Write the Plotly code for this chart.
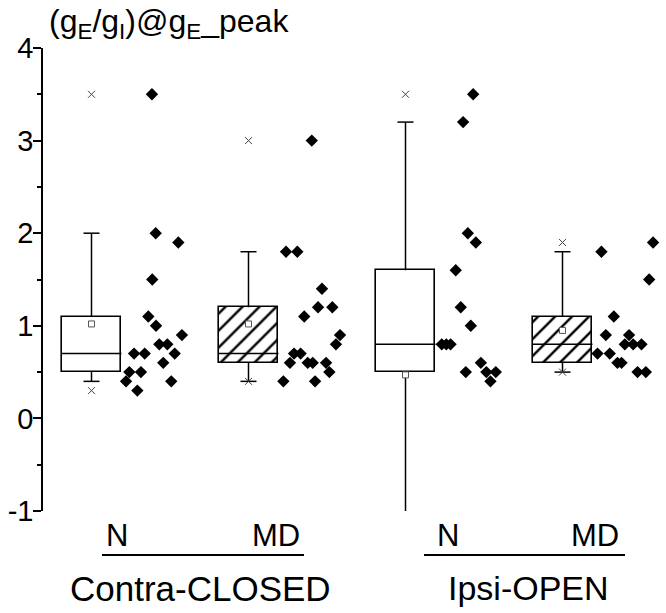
import plotly.graph_objects as go

# ---------------- data ----------------
group_names = ["Contra-CLOSED N", "Contra-CLOSED MD", "Ipsi-OPEN N", "Ipsi-OPEN MD"]
group_pos = [0, 1, 2, 3]
hatched = [False, True, False, True]

box_q1 = [0.50, 0.60, 0.50, 0.60]
box_median = [0.70, 0.70, 0.80, 0.80]
box_q3 = [1.10, 1.20, 1.60, 1.10]
whisker_low = [0.40, 0.40, -1.20, 0.50]
whisker_high = [2.00, 1.80, 3.20, 1.80]
box_mean = [1.02, 1.02, 0.47, 0.95]
data_min = [0.30, 0.40, None, 0.50]
data_max = [3.50, 3.00, 3.50, 1.90]

contra_n_values = [3.5, 2.0, 1.9, 1.5, 1.1, 1.0, 0.9, 0.8, 0.8, 0.7, 0.7, 0.7, 0.6, 0.5, 0.5, 0.4, 0.4, 0.3]
contra_n_jitter = [0.385, 0.409, 0.553, 0.387, 0.362, 0.411, 0.576, 0.432, 0.483, 0.271, 0.339, 0.530, 0.457, 0.241, 0.315, 0.220, 0.508, 0.292]

contra_md_values = [3.0, 1.8, 1.8, 1.4, 1.2, 1.2, 1.1, 0.9, 0.8, 0.7, 0.7, 0.6, 0.6, 0.6, 0.6, 0.5, 0.4, 0.4]
contra_md_jitter = [0.403, 0.239, 0.311, 0.468, 0.443, 0.534, 0.355, 0.583, 0.557, 0.290, 0.332, 0.264, 0.377, 0.409, 0.494, 0.515, 0.222, 0.424]

ipsi_n_values = [3.5, 3.2, 2.0, 1.9, 1.6, 1.2, 1.0, 0.8, 0.8, 0.8, 0.6, 0.5, 0.5, 0.5, 0.4]
ipsi_n_jitter = [0.431, 0.367, 0.397, 0.448, 0.320, 0.352, 0.416, 0.231, 0.260, 0.287, 0.480, 0.384, 0.515, 0.575, 0.541]

ipsi_md_values = [1.9, 1.8, 1.5, 1.1, 0.9, 0.9, 0.8, 0.8, 0.8, 0.7, 0.7, 0.6, 0.6, 0.5, 0.5]
ipsi_md_jitter = [0.577, 0.248, 0.552, 0.327, 0.276, 0.424, 0.397, 0.450, 0.503, 0.223, 0.301, 0.350, 0.376, 0.478, 0.531]

point_values = [contra_n_values, contra_md_values, ipsi_n_values, ipsi_md_values]
point_jitter = [contra_n_jitter, contra_md_jitter, ipsi_n_jitter, ipsi_md_jitter]

y_tick_vals = [-1, 0, 1, 2, 3, 4]
y_tick_text = ["-1", "0", "1", "2", "3", "4"]

# ---------------- layout constants ----------------
W, H = 666, 613
AX_LEFT, AX_TOP, AX_BOTTOM, AX_RIGHT = 43, 48, 511, 666
ML, MT, MB, MR = AX_LEFT, AX_TOP, H - AX_BOTTOM, W - AX_RIGHT
PW, PH = W - ML - MR, H - MT - MB
BOX_W = 0.382
CAP_HALF = 0.051
GROUP0_PX, GROUP_STEP_PX = 91.5, 157.0

def px_x(px):
    return (px - ML) / PW

def px_y(py):
    return (H - MB - py) / PH

fig = go.Figure()

# boxes as bars (base = q1)
for i in range(len(group_pos)):
    pattern = dict(shape="/", fgcolor="black", fgopacity=1, bgcolor="white", size=12, solidity=0.2) if hatched[i] else dict(shape="")
    fig.add_trace(go.Bar(
        x=[group_pos[i]], y=[box_q3[i] - box_q1[i]], base=[box_q1[i]],
        width=BOX_W,
        marker=dict(color="white", line=dict(color="black", width=1.6), pattern=pattern),
        showlegend=False, hoverinfo="skip",
    ))

# whiskers, caps, medians
wx, wy = [], []
for i, c in enumerate(group_pos):
    wx += [c, c, None, c, c, None]
    wy += [box_q3[i], whisker_high[i], None, box_q1[i], whisker_low[i], None]
    wx += [c - CAP_HALF, c + CAP_HALF, None, c - CAP_HALF, c + CAP_HALF, None]
    wy += [whisker_high[i], whisker_high[i], None, whisker_low[i], whisker_low[i], None]
    wx += [c - BOX_W / 2, c + BOX_W / 2, None]
    wy += [box_median[i], box_median[i], None]
fig.add_trace(go.Scatter(x=wx, y=wy, mode="lines", line=dict(color="black", width=1.5),
                         showlegend=False, hoverinfo="skip"))

# mean squares
fig.add_trace(go.Scatter(
    x=group_pos, y=box_mean, mode="markers",
    marker=dict(symbol="square", size=6, color="white", line=dict(color="#555", width=1)),
    showlegend=False, hoverinfo="skip"))

# min / max crosses
mx, my = [], []
for i, c in enumerate(group_pos):
    for v in (data_min[i], data_max[i]):
        if v is not None:
            mx.append(c)
            my.append(v)
fig.add_trace(go.Scatter(
    x=mx, y=my, mode="markers",
    marker=dict(symbol="x-thin-open", size=7, color="#444", line=dict(color="#444", width=1)),
    showlegend=False, hoverinfo="skip"))

# data points
for i, c in enumerate(group_pos):
    fig.add_trace(go.Scatter(
        x=[c + j for j in point_jitter[i]], y=point_values[i], mode="markers",
        marker=dict(symbol="diamond", size=9.5, color="black"),
        showlegend=False, hoverinfo="skip", cliponaxis=False))

# ---------------- axes ----------------
font_main = "Liberation Sans, Arial, sans-serif"
fig.update_xaxes(range=[(AX_LEFT - GROUP0_PX) / GROUP_STEP_PX, (AX_RIGHT - GROUP0_PX) / GROUP_STEP_PX],
                 visible=False, automargin=False)
fig.update_yaxes(
    range=[-1, 4], tickvals=y_tick_vals, ticktext=y_tick_text, automargin=False,
    showline=True, linecolor="black", linewidth=1.5,
    ticks="outside", ticklen=8, tickwidth=1.5, tickcolor="black", ticklabelstandoff=-6,
    minor=dict(dtick=0.5, tick0=0, ticks="outside", ticklen=4, tickwidth=1.5, tickcolor="black"),
    showgrid=False, zeroline=False,
    tickfont=dict(family=font_main, size=29, color="black"),
)

annotations = [
    dict(text="(g<sub>E</sub>/g<sub>I</sub>)@g<sub>E</sub>_peak", x=px_x(169), y=px_y(23),
         xanchor="center", yanchor="middle", font=dict(size=32)),
    dict(text="N", x=px_x(117), y=px_y(535), xanchor="center", yanchor="middle", font=dict(size=31)),
    dict(text="MD", x=px_x(276), y=px_y(535), xanchor="center", yanchor="middle", font=dict(size=31)),
    dict(text="Contra-CLOSED", x=px_x(200), y=px_y(588), xanchor="center", yanchor="middle", font=dict(size=35)),
    dict(text="N", x=px_x(448), y=px_y(535), xanchor="center", yanchor="middle", font=dict(size=31)),
    dict(text="MD", x=px_x(595), y=px_y(535), xanchor="center", yanchor="middle", font=dict(size=31)),
    dict(text="Ipsi-OPEN", x=px_x(528), y=px_y(588), xanchor="center", yanchor="middle", font=dict(size=34)),
]
for a in annotations:
    a.update(xref="paper", yref="paper", showarrow=False)
    a["font"].update(family=font_main, color="black")

shapes = [
    dict(type="line", xref="paper", yref="paper", x0=px_x(102), x1=px_x(304), y0=px_y(555), y1=px_y(555),
         line=dict(color="black", width=2)),
    dict(type="line", xref="paper", yref="paper", x0=px_x(424), x1=px_x(625), y0=px_y(555), y1=px_y(555),
         line=dict(color="black", width=2)),
]

fig.update_layout(
    width=W, height=H,
    margin=dict(l=ML, r=MR, t=MT, b=MB, pad=0),
    plot_bgcolor="white", paper_bgcolor="white",
    barmode="overlay", bargap=0,
    annotations=annotations, shapes=shapes,
    showlegend=False,
)

# remove the default page margin so the figure fills the window exactly
fig.write_html("out.html", config={"displayModeBar": False},
               post_script="document.body.style.margin='0';document.body.style.overflow='hidden';")
